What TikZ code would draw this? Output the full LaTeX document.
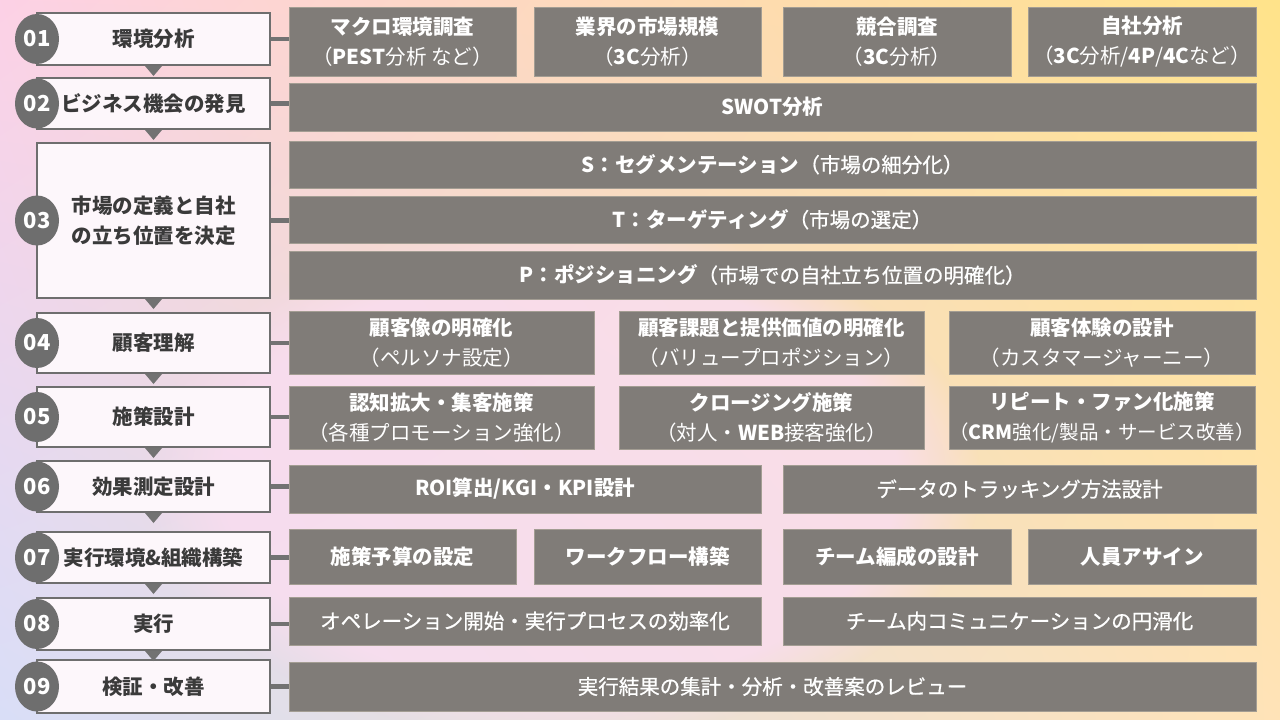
\documentclass[tikz,border=0pt]{standalone}
\usepackage{fontspec}
\setmainfont{Noto Sans CJK JP}
\newfontfamily\medfont{Noto Sans CJK JP}[FakeBold=0.7]
\usetikzlibrary{shapes.geometric,calc,fadings}
\definecolor{boxgray}{HTML}{807C78}
\definecolor{boxedge}{HTML}{A39D93}
\definecolor{stepedge}{HTML}{6E6E6E}
\definecolor{stepfill}{HTML}{FDF7FB}
\definecolor{steptext}{HTML}{3A3A3A}
\definecolor{numfill}{HTML}{6E6E6E}
\definecolor{linkgray}{HTML}{727272}
\definecolor{blobpink}{HTML}{FADDF1}
\pgfdeclarefunctionalshading{bgshade}{\pgfpoint{0bp}{0bp}}{\pgfpoint{100bp}{100bp}}{}{
25 sub 50 div exch 25 sub 50 div exch
2 copy mul -0.14 mul 2 index 0.15 mul add 1 index 0.14 mul add 0.85 add 3 1 roll
2 copy mul 0.05 mul 2 index 0.02 mul add 1 index -0.05 mul add 0.87 add 3 1 roll
2 copy mul -0.11 mul 2 index -0.25 mul add 1 index -0.07 mul add 0.97 add 3 1 roll
pop pop
}
\tikzset{
  stepbox/.style={draw=stepedge, line width=2pt, fill=stepfill, text=steptext,
    font=\bfseries\fontsize{20.5}{30}\selectfont, align=center, inner sep=0pt},
  itembox/.style={draw=boxedge, line width=0.8pt, fill=boxgray, text=white,
    font=\fontsize{20.5}{30}\selectfont, align=center, inner sep=0pt},
  numdisc/.style={ellipse, fill=numfill, text=white,
    font=\bfseries\fontsize{22}{22}\selectfont, minimum width=44pt, minimum height=50pt, inner sep=0pt},
  link/.style={draw=linkgray, line width=4.5pt},
  flowtri/.style={fill=linkgray},
}
\newcommand\ibox[6]{\node[itembox, minimum width={(#4-#2)*1pt}, minimum height={(#5-#3)*1pt}] (#1) at ({(#2+#4)/2},{(#3+#5)/2}) {#6};}
\newcommand\stepnode[5]{\node[stepbox, minimum width=233pt, minimum height={(#3-#2)*1pt}] (#1) at (153.5,{(#2+#3)/2}) {#5};
\node[numdisc] (#1n) at (37,{(#2+#3)/2}) {#4};}
\newcommand\flowdown[1]{\fill[flowtri] ($(#1.south)+(-8.5,0)$) -- ($(#1.south)+(8.5,0)$) -- ($(#1.south)+(0,10)$) -- cycle;}
\begin{document}
\begin{tikzpicture}[x=1pt,y=-1pt]
\useasboundingbox (0,0) rectangle (1280,720);
\shade[shading=bgshade] (0,0) rectangle (1280,720);
\fill[blobpink, path fading=circle with fuzzy edge 20 percent, fill opacity=0.8] (560,480) ellipse (420 and 260);

% left step column
\stepnode{s1}{13}{65}{01}{環境分析}
\stepnode{s2}{78}{129}{02}{ビジネス機会の発見}
\stepnode{s3}{143}{298}{03}{市場の定義と自社\\の立ち位置を決定}
\stepnode{s4}{313}{373}{04}{顧客理解}
\stepnode{s5}{387}{447}{05}{施策設計}
\stepnode{s6}{461}{512}{06}{効果測定設計}
\stepnode{s7}{532}{583}{07}{実行環境\&組織構築}
\stepnode{s8}{598}{650}{08}{実行}
\stepnode{s9}{660}{713}{09}{検証・改善}
\flowdown{s1}\flowdown{s2}\flowdown{s3}\flowdown{s4}
\flowdown{s5}\flowdown{s6}\flowdown{s7}\flowdown{s8}

% row 01
\ibox{r1a}{289}{7}{516}{76}{{\bfseries マクロ環境調査}\\（\textbf{PEST}分析 など）}
\ibox{r1b}{534}{7}{761}{76}{{\bfseries 業界の市場規模}\\（\textbf{3C}分析）}
\ibox{r1c}{783}{7}{1011}{76}{{\bfseries 競合調査}\\（\textbf{3C}分析）}
\ibox{r1d}{1028}{7}{1256}{76}{{\bfseries 自社分析}\\（\textbf{3C}分析/\textbf{4P}/\textbf{4C}など）}
% row 02
\ibox{r2a}{289}{83}{1256}{131}{\bfseries SWOT分析}
% row 03
\ibox{r3a}{289}{141}{1256}{188}{{\bfseries S：セグメンテーション}{\medfont （市場の細分化）}}
\ibox{r3b}{289}{196}{1256}{243}{{\bfseries T：ターゲティング}{\medfont （市場の選定）}}
\ibox{r3c}{289}{251}{1256}{299}{{\bfseries P：ポジショニング}{\medfont （市場での自社立ち位置の明確化）}}
% row 04
\ibox{r4a}{289}{311}{594}{374}{{\bfseries 顧客像の明確化}\\（ペルソナ設定）}
\ibox{r4b}{619}{311}{924}{374}{{\bfseries 顧客課題と提供価値の明確化}\\（バリュープロポジション）}
\ibox{r4c}{949}{311}{1255}{374}{{\bfseries 顧客体験の設計}\\（カスタマージャーニー）}
% row 05
\ibox{r5a}{289}{386}{594}{449}{{\bfseries 認知拡大・集客施策}\\（各種プロモーション強化）}
\ibox{r5b}{619}{386}{924}{449}{{\bfseries クロージング施策}\\（対人・\textbf{WEB}接客強化）}
\ibox{r5c}{949}{386}{1255}{449}{{\bfseries リピート・ファン化施策}\\{\fontsize{19.5}{30}\selectfont （\textbf{CRM}強化/製品・サービス改善）}}
% row 06
\ibox{r6a}{289}{465}{761}{513}{\bfseries ROI算出/KGI・KPI設計}
\ibox{r6b}{783}{465}{1256}{513}{\medfont データのトラッキング方法設計}
% row 07
\ibox{r7a}{289}{529}{516}{584}{\bfseries 施策予算の設定}
\ibox{r7b}{534}{529}{761}{584}{\bfseries ワークフロー構築}
\ibox{r7c}{783}{529}{1011}{584}{\bfseries チーム編成の設計}
\ibox{r7d}{1028}{529}{1256}{584}{\bfseries 人員アサイン}
% row 08
\ibox{r8a}{289}{597}{761}{645}{\medfont オペレーション開始・実行プロセスの効率化}
\ibox{r8b}{783}{597}{1256}{645}{\medfont チーム内コミュニケーションの円滑化}
% row 09
\ibox{r9a}{289}{662}{1256}{711}{\medfont 実行結果の集計・分析・改善案のレビュー}

% connectors
\draw[link] (s1.east) -- (s1.east -| r1a.west);
\draw[link] (s2.east) -- (s2.east -| r2a.west);
\draw[link] (s3.east) -- (s3.east -| r3b.west);
\draw[link] (s4.east) -- (s4.east -| r4a.west);
\draw[link] (s5.east) -- (s5.east -| r5a.west);
\draw[link] (s6.east) -- (s6.east -| r6a.west);
\draw[link] (s7.east) -- (s7.east -| r7a.west);
\draw[link] (s8.east) -- (s8.east -| r8a.west);
\draw[link] (s9.east) -- (s9.east -| r9a.west);
\end{tikzpicture}
\end{document}
